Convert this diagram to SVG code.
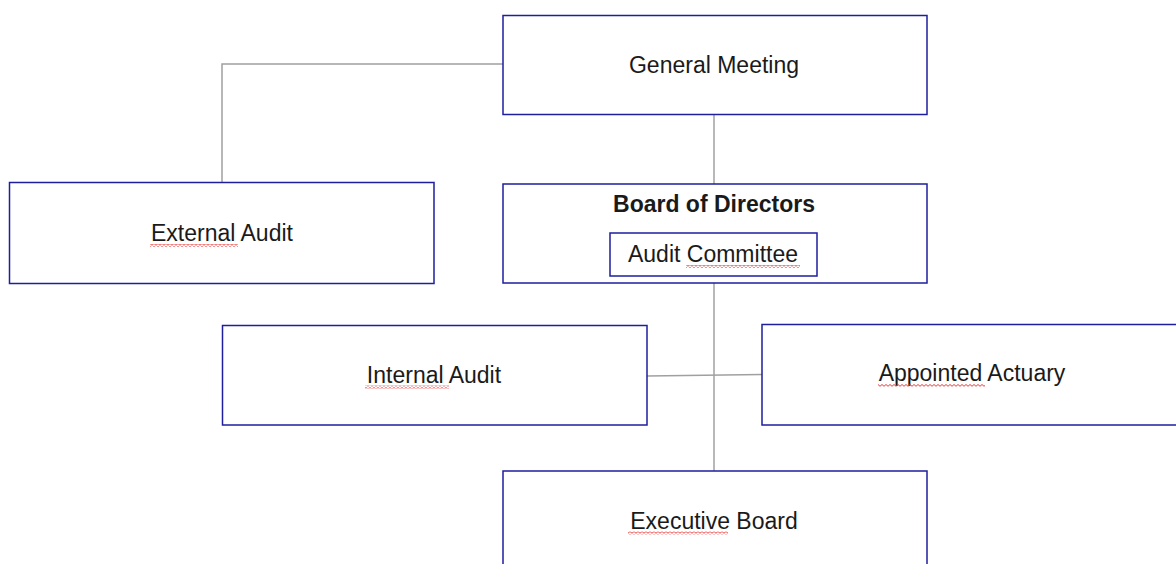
<svg xmlns="http://www.w3.org/2000/svg" width="1176" height="564" viewBox="0 0 1176 564">
  <style>
    .box { fill: #ffffff; stroke: #1e1e9e; stroke-width: 1.5; }
    .link { fill: none; stroke: #a0a0a0; stroke-width: 1.5; }
    .lbl { font-family: "Liberation Sans", Arial, sans-serif; font-size: 23px; fill: #1a1a1a; text-anchor: middle; }
    .bold { font-weight: bold; }
    .squiggle { fill: url(#wave); }
  </style>
  <defs>
    <!-- spell-check style wavy underline -->
    <pattern id="wave" patternUnits="userSpaceOnUse" width="4" height="3">
      <path d="M0 2.3 L2 0.5 L4 2.3" fill="none" stroke="#e83a3a" stroke-width="1"/>
    </pattern>
  </defs>
  <rect width="1176" height="564" fill="#ffffff"/>

  <g id="connectors">
    <polyline class="link" points="503,64 222,64 222,182"/>
    <line class="link" x1="714" y1="115" x2="714" y2="184"/>
    <line class="link" x1="714" y1="283" x2="714" y2="471"/>
    <line class="link" x1="647" y1="376" x2="762" y2="374.5"/>
  </g>

  <g id="general-meeting">
    <rect class="box" x="503" y="15.5" width="424" height="99"/>
    <text class="lbl" x="714" y="72.5">General Meeting</text>
  </g>

  <g id="external-audit">
    <rect class="box" x="9.5" y="182.5" width="424.5" height="101"/>
    <text class="lbl" x="222" y="241">External Audit</text>
    <rect class="squiggle" x="150" y="244" width="88" height="3"/>
  </g>

  <g id="board-of-directors">
    <rect class="box" x="503" y="184" width="424" height="99"/>
    <text class="lbl bold" x="714" y="212">Board of Directors</text>
    <g id="audit-committee">
      <rect class="box" x="610" y="233" width="207" height="43"/>
      <text class="lbl" x="713" y="262">Audit Committee</text>
      <rect class="squiggle" x="686" y="265" width="114" height="3"/>
    </g>
  </g>

  <g id="internal-audit">
    <rect class="box" x="222.5" y="325.5" width="424.5" height="99.5"/>
    <text class="lbl" x="434" y="382.5">Internal Audit</text>
    <rect class="squiggle" x="365" y="385.5" width="84" height="3"/>
  </g>

  <g id="appointed-actuary">
    <rect class="box" x="762" y="324.5" width="420" height="100.5"/>
    <text class="lbl" x="972" y="381">Appointed Actuary</text>
    <rect class="squiggle" x="878" y="384" width="107" height="3"/>
  </g>

  <g id="executive-board">
    <rect class="box" x="503" y="471" width="424" height="110"/>
    <text class="lbl" x="714" y="528.5">Executive Board</text>
    <rect class="squiggle" x="628" y="531.5" width="100" height="3"/>
  </g>
</svg>
